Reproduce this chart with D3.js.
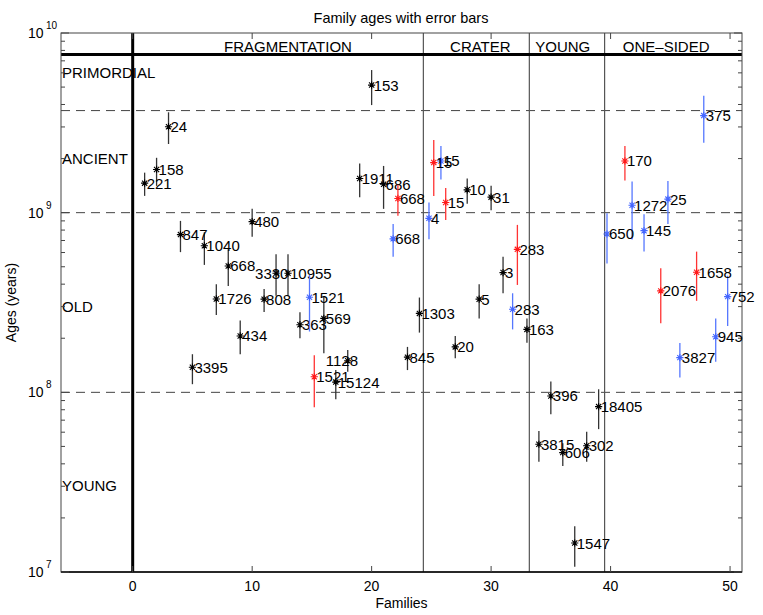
<!DOCTYPE html>
<html>
<head>
<meta charset="utf-8">
<script src="https://cdn.jsdelivr.net/npm/d3@7"></script>
<style>
  html, body { margin: 0; padding: 0; background: #fff; }
  text { font-family: "Liberation Sans", Arial, Helvetica, sans-serif; fill: #000; }
</style>
</head>
<body>
<svg id="chart" width="763" height="615"></svg>
<script>
// ---------- DATA ----------
// Black series (single-age families)
const blackX = [1,2,3,4,5,6,7,8,9,10,11,12,13,14,16,17,18,19,20,21,23,24,27,28,29,30,31,33,34,35,36,37,38,39];
const blackLabels = ["221","158","24","847","3395","1040","1726","668","434","480","808","3330","10955","363","569","15124","1128","1911","153","686","845","1303","20","10","5","31","3","163","3815","396","606","1547","302","18405"];
const blackAge = [1.46e9,1.74e9,3.01e9,7.55e8,1.38e8,6.55e8,3.31e8,5.05e8,2.06e8,8.91e8,3.30e8,4.6e8,4.6e8,2.38e8,2.58e8,1.14e8,1.5e8,1.55e9,5.13e9,1.44e9,1.57e8,2.75e8,1.79e8,1.34e9,3.3e8,1.22e9,4.64e8,2.24e8,5.14e7,9.55e7,4.62e7,1.45e7,5.04e7,8.33e7];
const blackLo = [1.24e9,1.41e9,2.41e9,6.03e8,1.11e8,5.12e8,2.69e8,3.91e8,1.63e8,7.35e8,2.80e8,3.45e8,3.45e8,2.0e8,1.65e8,9.16e7,1.30e8,1.22e9,3.97e9,1.05e9,1.33e8,2.15e8,1.55e8,1.12e9,2.58e8,1.03e9,3.56e8,1.89e8,4.11e7,7.55e7,3.89e7,1.07e7,4.11e7,6.24e7];
const blackHi = [1.67e9,2.02e9,3.62e9,9.0e8,1.63e8,7.78e8,4.0e8,6.25e8,2.51e8,1.05e9,3.76e8,5.86e8,5.86e8,2.79e8,3.41e8,1.33e8,1.72e8,1.88e9,6.22e9,1.82e9,1.79e8,3.37e8,2.06e8,1.55e9,4.0e8,1.41e9,5.69e8,2.58e8,6.1e7,1.15e8,5.21e7,1.8e7,6.04e7,1.04e8];

// Blue series
const blueX = [14.8,21.8,24.8,25.8,31.8,39.7,41.8,42.8,44.8,45.8,47.8,48.8,49.8];
const blueLabels = ["1521","668","4","15","283","650","1272","145","25","3827","375","945","752"];
const blueAge = [3.38e8,7.15e8,9.3e8,1.94e9,2.9e8,7.61e8,1.1e9,7.94e8,1.19e9,1.56e8,3.47e9,2.04e8,3.41e8];
const blueLo = [2.18e8,5.69e8,7.11e8,1.53e9,2.24e8,5.22e8,7.1e8,6.07e8,8.65e8,1.21e8,2.45e9,1.48e8,2.34e8];
const blueHi = [4.5e8,8.65e8,1.14e9,2.35e9,3.56e8,9.92e8,1.49e9,9.79e8,1.5e9,1.88e8,4.48e9,2.58e8,4.45e8];

// Red series
const redX = [15.2,22.2,25.2,26.2,32.2,41.2,44.2,47.2];
const redLabels = ["1521","668","15","15","283","170","2076","1658"];
const redAge = [1.22e8,1.2e9,1.9e9,1.14e9,6.25e8,1.94e9,3.67e8,4.66e8];
const redLo = [8.26e7,9.6e8,1.24e9,9.1e8,3.96e8,1.51e9,2.42e8,3.23e8];
const redHi = [1.61e8,1.43e9,2.54e9,1.37e9,8.55e8,2.35e9,4.9e8,6.07e8];

// Reference lines and annotations
const ageBoundaries = [1e8, 1e9, 3.7e9];      // dashed
const primordialLimit = 7.6e9;                 // thick horizontal
const sectionBoundaries = [24.33, 33.2, 39.5]; // thin vertical
const sectionNames = ["FRAGMENTATION","CRATER","YOUNG","ONE–SIDED"];
const sectionCenters = [13, 29.1, 36.0, 44.65];
const ageClassNames = ["PRIMORDIAL","ANCIENT","OLD","YOUNG"];
const ageClassValues = [6e9, 2e9, 3e8, 3e7];
const xTicks = [0,10,20,30,40,50];
const yDecades = [1e7,1e8,1e9,1e10];
const yDecadeExp = ["7","8","9","10"];

// ---------- LAYOUT / STYLE ----------
const W = 763, H = 615;
const L = 61, R = 742, T = 33, B = 572;
const colors = { black: "#000000", blue: "#4466ff", red: "#ff1a1a" };
const barColors = { black: "#333333", blue: "#5577ff", red: "#ff3333" };
const labelDx = { "3330": -23, "1128": -24 };

const svg = d3.select("#chart");
const x = d3.scaleLinear().domain([-6, 51]).range([L, R]);
const y = d3.scaleLog().domain([1e7, 1e10]).range([B, T]);

// Title
svg.append("text").attr("x", 401).attr("y", 23).attr("text-anchor", "middle")
  .style("font-size", "14.5px").text("Family ages with error bars");

// Axis labels
svg.append("text").attr("x", (L + R) / 2).attr("y", 608).attr("text-anchor", "middle")
  .style("font-size", "14px").text("Families");
svg.append("text").attr("transform", `translate(16,${(T + B) / 2}) rotate(-90)`)
  .attr("text-anchor", "middle").style("font-size", "14px").text("Ages (years)");

const plot = svg.append("g");

// Dashed horizontal lines
plot.selectAll("line.dash").data(ageBoundaries).join("line")
  .attr("x1", L).attr("x2", R).attr("y1", d => y(d)).attr("y2", d => y(d))
  .attr("stroke", "#444").attr("stroke-width", 1).attr("stroke-dasharray", "9,6");

// Section vertical lines
plot.selectAll("line.sec").data(sectionBoundaries).join("line")
  .attr("x1", d => x(d)).attr("x2", d => x(d)).attr("y1", T).attr("y2", B)
  .attr("stroke", "#555").attr("stroke-width", 1.2);

// Thick lines
plot.append("line").attr("x1", L).attr("x2", R)
  .attr("y1", y(primordialLimit)).attr("y2", y(primordialLimit))
  .attr("stroke", "#000").attr("stroke-width", 3);
plot.append("line").attr("x1", x(0)).attr("x2", x(0)).attr("y1", T).attr("y2", B)
  .attr("stroke", "#000").attr("stroke-width", 3);

// Section names
plot.selectAll("text.sec").data(sectionNames).join("text")
  .attr("x", (d, i) => x(sectionCenters[i])).attr("y", 52).attr("text-anchor", "middle")
  .style("font-size", "15px").text(d => d);

// Age class names
plot.selectAll("text.cls").data(ageClassNames).join("text")
  .attr("x", x(-6) + 1).attr("y", (d, i) => y(ageClassValues[i]) + 5)
  .style("font-size", "15px").text(d => d);

// Frame
svg.append("rect").attr("x", L).attr("y", T).attr("width", R - L).attr("height", B - T)
  .attr("fill", "none").attr("stroke", "#444").attr("stroke-width", 1);
svg.append("line").attr("x1", L).attr("x2", R).attr("y1", B).attr("y2", B)
  .attr("stroke", "#000").attr("stroke-width", 1.3);

// X ticks (bottom & top, inward)
const ax = svg.append("g");
xTicks.forEach(t => {
  ax.append("line").attr("x1", x(t)).attr("x2", x(t)).attr("y1", B).attr("y2", B - 6).attr("stroke", "#444");
  ax.append("line").attr("x1", x(t)).attr("x2", x(t)).attr("y1", T).attr("y2", T + 6).attr("stroke", "#444");
  ax.append("text").attr("x", x(t)).attr("y", 591).attr("text-anchor", "middle")
    .style("font-size", "14px").text(t);
});

// Y ticks (log, minor + major, left & right inward)
const minorVals = [];
[1e7, 1e8, 1e9].forEach(dec => { for (let k = 2; k <= 9; k++) minorVals.push(k * dec); });
minorVals.forEach(v => {
  ax.append("line").attr("x1", L).attr("x2", L + 4).attr("y1", y(v)).attr("y2", y(v)).attr("stroke", "#444");
  ax.append("line").attr("x1", R).attr("x2", R - 4).attr("y1", y(v)).attr("y2", y(v)).attr("stroke", "#444");
});
yDecades.forEach((v, i) => {
  ax.append("line").attr("x1", L).attr("x2", L + 8).attr("y1", y(v)).attr("y2", y(v)).attr("stroke", "#444");
  ax.append("line").attr("x1", R).attr("x2", R - 8).attr("y1", y(v)).attr("y2", y(v)).attr("stroke", "#444");
  ax.append("text").attr("x", 28).attr("y", y(v) + 5).style("font-size", "14px").text("10");
  ax.append("text").attr("x", 46).attr("y", y(v) - 4).style("font-size", "10px").text(yDecadeExp[i]);
});

// Series
function drawSeries(xs, ages, lo, hi, labels, key) {
  const data = xs.map((d, i) => ({ x: d, age: ages[i], lo: lo[i], hi: hi[i], label: labels[i] }));
  const g = svg.append("g");
  g.selectAll("line.err").data(data).join("line")
    .attr("x1", d => x(d.x)).attr("x2", d => x(d.x))
    .attr("y1", d => y(d.lo)).attr("y2", d => y(d.hi))
    .attr("stroke", barColors[key]).attr("stroke-width", 1.3);
  const m = g.selectAll("g.mk").data(data).join("g")
    .attr("transform", d => `translate(${x(d.x)},${y(d.age)})`);
  const s = 3.6, dd = 2.6;
  m.append("path")
    .attr("d", `M${-s},0L${s},0M0,${-s}L0,${s}M${-dd},${-dd}L${dd},${dd}M${-dd},${dd}L${dd},${-dd}`)
    .attr("stroke", colors[key]).attr("stroke-width", 1.1).attr("fill", "none");
  g.selectAll("text.lb").data(data).join("text")
    .attr("x", d => x(d.x) + 2 + (labelDx[d.label] && key === "black" ? labelDx[d.label] : 0))
    .attr("y", d => y(d.age) + 5.5)
    .style("font-size", "15px").text(d => d.label);
}
drawSeries(blackX, blackAge, blackLo, blackHi, blackLabels, "black");
drawSeries(blueX, blueAge, blueLo, blueHi, blueLabels, "blue");
drawSeries(redX, redAge, redLo, redHi, redLabels, "red");
</script>
</body>
</html>
